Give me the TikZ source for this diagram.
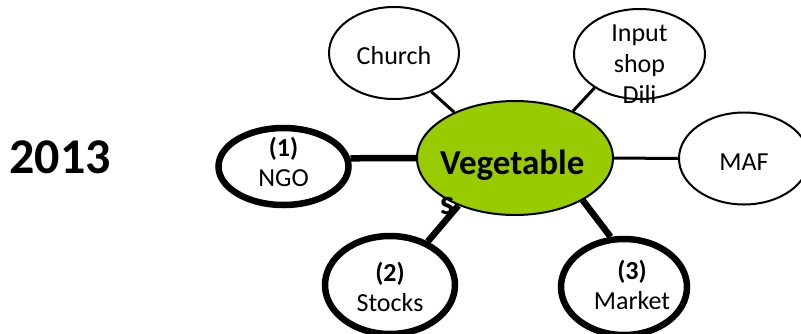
\documentclass[tikz,border=0pt]{standalone}
\usepackage{fontspec}
\setmainfont{Carlito}
\usetikzlibrary{shapes.geometric}
\definecolor{vegGreen}{HTML}{99CC00}

\begin{document}
\begin{tikzpicture}[x=1pt,y=-1pt,
  txt/.style={font=\fontsize{26}{30}\selectfont,align=center,inner sep=0pt},
  thinring/.style={ellipse,draw,line width=2pt,fill=white,inner sep=0pt,minimum width=130pt,minimum height=92pt},
  thickring/.style={ellipse,draw,line width=6.5pt,fill=white,inner sep=0pt,minimum width=130pt,minimum height=77pt},
  thinlink/.style={line width=3pt},
  thicklink/.style={line width=6.5pt}]
  \useasboundingbox (0,0) rectangle (801,333);

  \node [font=\bfseries\fontsize{50}{60}\selectfont] (year) at (60,157) {2013};

  \node [ellipse,draw,line width=2pt,fill=vegGreen,inner sep=0pt,minimum width=196pt,minimum height=114pt] (veg) at (515,158) {};

  \node [thinring,label={[txt,yshift=-3pt]center:Church}] (church) at (394,53) {};
  \node [thinring,minimum width=131pt,minimum height=90pt,label={[txt,font=\fontsize{26}{31}\selectfont,yshift=-10pt]center:Input\\shop\\Dili}] (input) at (639.5,54) {};
  \node [thinring,label={[txt,yshift=-3.5pt]center:MAF}] (maf) at (744,158.5) {};
  \node [thickring,label={[txt,yshift=5pt]center:\textbf{(1)}\\NGO}] (ngo) at (283.5,166.5) {};
  \node [thickring,minimum height=98pt,label={[txt,yshift=-1.5pt]center:\textbf{(2)}\\Stocks}] (stocks) at (390,285) {};
  \node [thickring,minimum width=126pt,minimum height=96pt,label={[txt,xshift=8pt,yshift=2.5pt]center:\textbf{(3)}\\Market}] (market) at (624,287) {};

  % links to the centre
  \draw [thinlink] (church.314) -- (veg.143);
  \draw [thinlink] (input.217) -- (veg.39);
  \draw [thinlink] (veg.east) -- (maf.west);
  \draw [thicklink] (ngo.7) -- (veg.west);
  \draw [thicklink] (stocks.49) -- (veg.220);
  \draw [thicklink] (market.105) -- (veg.328);

  \node [font=\bfseries\fontsize{35}{40}\selectfont,align=left,inner sep=0pt,anchor=west] (vegtext) at (440,182) {Vegetable\\s};
\end{tikzpicture}
\end{document}
